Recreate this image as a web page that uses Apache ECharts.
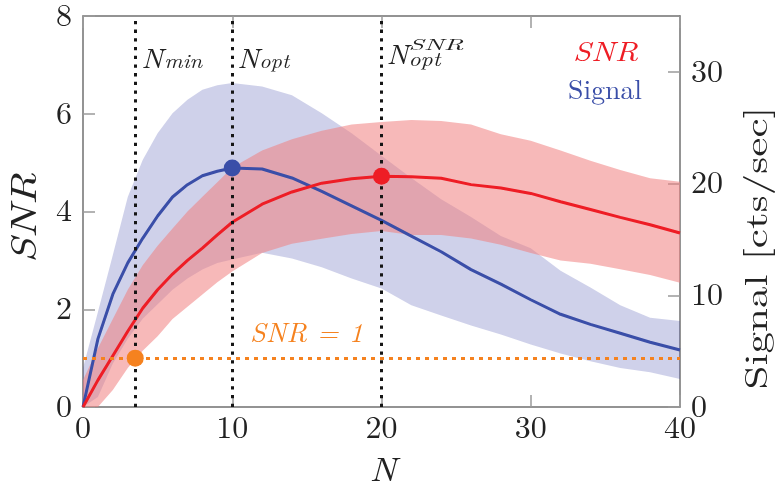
<!DOCTYPE html>
<html><head><meta charset="utf-8">
<script src="https://cdn.jsdelivr.net/npm/echarts@6/dist/echarts.min.js"></script>
<style>html,body{margin:0;padding:0;background:#fff}#c{width:776px;height:488px}</style>
</head><body><div id="c"></div>
<script>
// ---- data ----
const N = [0,1,2,3,4,5,6,7,8,9,10,12,14,16,18,20,22,24,26,28,30,32,34,36,38,40];
const snr      = [0,0.55,1.05,1.55,2.02,2.4,2.72,3.0,3.25,3.52,3.78,4.15,4.4,4.58,4.67,4.72,4.71,4.68,4.55,4.48,4.37,4.2,4.04,3.88,3.73,3.56];
const snrUpper = [0.55,1.2,1.8,2.4,2.9,3.3,3.65,4.0,4.3,4.6,4.9,5.25,5.48,5.65,5.78,5.83,5.87,5.85,5.78,5.58,5.45,5.25,5.04,4.85,4.68,4.61];
const snrLower = [0,0,0.35,0.8,1.15,1.45,1.8,2.05,2.3,2.55,2.77,3.15,3.34,3.44,3.54,3.6,3.52,3.52,3.45,3.32,3.15,3.0,2.93,2.82,2.7,2.54];
const signal      = [0,6.1,10.1,12.9,15.1,17.1,18.8,19.9,20.7,21.1,21.4,21.3,20.5,19.3,18.0,16.7,15.3,13.9,12.3,11.0,9.6,8.3,7.4,6.6,5.8,5.1];
const signalUpper = [3.5,8.5,13.6,18.8,22.1,24.5,26.3,27.5,28.4,28.8,29.0,28.7,27.9,26.3,24.5,22.5,20.5,18.6,17.0,15.3,14.2,12.2,10.7,9.1,8.0,7.7];
const signalLower = [0,0.9,3.9,6.1,7.9,9.2,10.5,11.5,12.3,12.9,13.2,13.8,13.3,12.5,11.5,10.6,9.1,8.2,7.3,6.5,5.6,4.8,4.1,3.5,3.1,2.5];
const Nmin = 3.5, Nopt = 10, NoptSNR = 20, snrThreshold = 1;
const xTicks = [0,10,20,30,40];
const snrTicks = [0,2,4,6,8];
const signalTicks = [0,10,20,30];

// ---- styling ----
const FONT = "'Latin Modern Roman', 'Liberation Serif', serif";
const C_BLUE = '#3a4ea8', C_RED = '#ee1d25', C_ORANGE = '#f5821f';
const AXIS = '#707070', TICK = '#9a9a9a', TXT = '#222';

const zip3 = (a, b, c) => a.map((v, i) => [v, b[i], c[i]]);
const zip = (a, b) => a.map((v, i) => [v, b[i]]);

const chart = echarts.init(document.getElementById('c'), null, {renderer: 'canvas'});

const axisCommon = {
  axisLine: {show: true, onZero: false, lineStyle: {color: AXIS, width: 1.5}},
  axisTick: {show: true, inside: true, length: 12, lineStyle: {color: TICK, width: 1.5}},
  splitLine: {show: false},
  axisLabel: {fontFamily: FONT, fontSize: 32, color: TXT}
};

const dotted = (color, w, dash) => ({color, width: w, type: dash, cap: 'butt'});

// band polygon drawn through the series' own axes (api.coord)
function bandSeries(xs, lo, hi, yAxisIndex, color) {
  return {
    type: 'custom', yAxisIndex, silent: true, z: 1,
    data: zip3(xs, lo, hi),
    renderItem: function (params, api) {
      if (params.dataIndex !== 0) return null;
      const top = xs.map((x, i) => api.coord([x, hi[i]]));
      const bot = xs.map((x, i) => api.coord([x, lo[i]])).reverse();
      return {type: 'polygon', shape: {points: top.concat(bot)}, style: {fill: color, stroke: null}};
    }
  };
}

chart.setOption({
  animation: false,
  grid: {left: 83, right: 96, top: 12, bottom: 81},
  xAxis: [
    Object.assign({}, axisCommon, {type: 'value', position: 'bottom', min: xTicks[0], max: xTicks[xTicks.length-1], interval: 10,
      axisLabel: Object.assign({}, axisCommon.axisLabel, {margin: 5})}),
    Object.assign({}, axisCommon, {type: 'value', position: 'top', min: xTicks[0], max: xTicks[xTicks.length-1], interval: 10,
      axisLabel: {show: false}})
  ],
  yAxis: [
    Object.assign({}, axisCommon, {type: 'value', position: 'left', min: snrTicks[0], max: snrTicks[snrTicks.length-1], interval: 2,
      axisLabel: Object.assign({}, axisCommon.axisLabel, {margin: 11})}),
    Object.assign({}, axisCommon, {type: 'value', position: 'right', min: 0, max: 35, interval: 10,
      axisLabel: Object.assign({}, axisCommon.axisLabel, {margin: 11, showMaxLabel: false,
        formatter: v => (signalTicks.indexOf(v) >= 0 ? String(v) : '')})})
  ],
  series: [
    bandSeries(N, signalLower, signalUpper, 1, 'rgba(62,72,170,0.25)'),
    bandSeries(N, snrLower, snrUpper, 0, 'rgba(240,128,128,0.55)'),
    {type: 'line', yAxisIndex: 0, data: [], z: 2, silent: true,
      markLine: {symbol: 'none', silent: true, label: {show: false}, animation: false,
        lineStyle: dotted('#151515', 3, [3.3, 5.4]),
        data: [{xAxis: Nmin}, {xAxis: Nopt}, {xAxis: NoptSNR}]}},
    {type: 'line', yAxisIndex: 0, data: [], z: 2, silent: true,
      markLine: {symbol: 'none', silent: true, label: {show: false}, animation: false,
        lineStyle: dotted(C_ORANGE, 3.2, [4, 5]),
        data: [{yAxis: snrThreshold}]}},
    {type: 'line', yAxisIndex: 1, data: zip(N, signal), symbol: 'none', lineStyle: {color: C_BLUE, width: 3}, z: 3},
    {type: 'line', yAxisIndex: 0, data: zip(N, snr), symbol: 'none', lineStyle: {color: C_RED, width: 3}, z: 4},
    {type: 'scatter', yAxisIndex: 1, data: [[Nopt, signal[N.indexOf(Nopt)]]], symbolSize: 17, itemStyle: {color: C_BLUE, opacity: 1}, z: 5},
    {type: 'scatter', yAxisIndex: 0, data: [[NoptSNR, snr[N.indexOf(NoptSNR)]]], symbolSize: 17, itemStyle: {color: C_RED, opacity: 1}, z: 5},
    {type: 'scatter', yAxisIndex: 0, data: [[Nmin, snrThreshold]], symbolSize: 17, itemStyle: {color: C_ORANGE, opacity: 1}, z: 5}
  ]
});

// ---- text annotations ----
const mctx = document.createElement('canvas').getContext('2d');
function T(text, o) {
  const size = o.size, italic = !!o.italic;
  mctx.font = (italic ? 'italic ' : '') + size + 'px ' + FONT;
  const w = mctx.measureText(text).width;
  const sx = o.width ? o.width / w : 1;
  return {type: 'text', x: o.x, y: o.y, rotation: o.rot || 0, scaleX: sx, silent: true, z: 20,
    style: {text, fill: o.color || TXT, fontSize: size, fontStyle: italic ? 'italic' : 'normal',
      fontFamily: FONT, align: o.align || 'left', verticalAlign: 'middle'}};
}
const px = v => chart.convertToPixel({xAxisIndex: 0}, v);
const xMin = px(Nmin), xOpt = px(Nopt), xOptS = px(NoptSNR);

chart.setOption({graphic: [
  // N_min
  T('N', {x: xMin + 6, y: 59, size: 28, italic: true, width: 22}),
  T('min', {x: xMin + 29, y: 62, size: 19, italic: true, width: 38}),
  // N_opt
  T('N', {x: xOpt + 5, y: 59, size: 28, italic: true, width: 22}),
  T('opt', {x: xOpt + 27, y: 62, size: 19, italic: true, width: 30}),
  // N_opt^SNR
  T('N', {x: xOptS + 5, y: 55, size: 28, italic: true, width: 22}),
  T('SNR', {x: xOptS + 27, y: 45, size: 15, italic: true, width: 55}),
  T('opt', {x: xOptS + 27, y: 60, size: 19, italic: true, width: 32}),
  // legend
  T('SNR', {x: 573, y: 52.5, size: 28, italic: true, width: 65, color: C_RED}),
  T('Signal', {x: 568, y: 91, size: 27, width: 74, color: C_BLUE}),
  // threshold label
  T('SNR = 1', {x: 250, y: 334, size: 27, italic: true, width: 113, color: C_ORANGE}),
  // axis titles
  T('N', {x: 383, y: 471, size: 33, italic: true, width: 27, align: 'center'}),
  T('SNR', {x: 25, y: 218, size: 37, italic: true, width: 90, align: 'center', rot: Math.PI / 2}),
  T('Signal [cts/sec]', {x: 757, y: 248, size: 32, width: 283, align: 'center', rot: Math.PI / 2})
]});
</script></body></html>
